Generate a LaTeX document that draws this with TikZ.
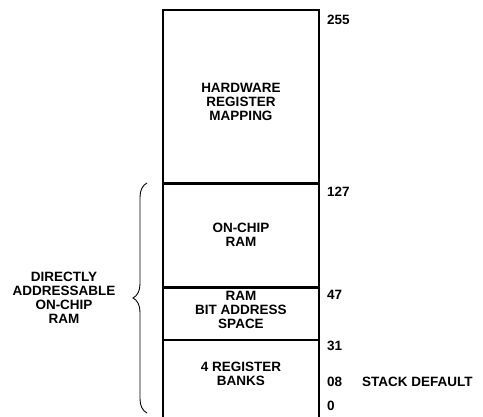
\documentclass[tikz,border=0pt]{standalone}
\usepackage{fontspec}
\setmainfont{Liberation Sans}
\usetikzlibrary{positioning,decorations.pathreplacing}
\tikzset{
  region/.style={draw, line width=1.3pt, minimum width=155pt, inner sep=0pt},
  txt/.style={align=center, inner sep=0pt, font=\fontsize{13.5}{14}\selectfont\bfseries},
  addr/.style={anchor=west, inner sep=0pt, font=\fontsize{13.5}{14}\selectfont\bfseries},
}
\begin{document}
\begin{tikzpicture}[x=1pt,y=-1pt]
    \useasboundingbox (0,0) rectangle (483,417);
    % memory regions, top to bottom
    \node[region, minimum height=172pt, anchor=north west] (hw) at (163,10) {};
    \node[region, minimum height=103pt, below=0pt of hw] (ram) {};
    \node[region, minimum height=51pt, below=0pt of ram] (bit) {};
    \node[region, minimum height=77pt, below=0pt of bit] (rb) {};
    \draw[line width=2.2pt] (hw.north west) rectangle (rb.south east);
    \node[txt] (hwtxt) at (241,102) {HARDWARE\\REGISTER\\MAPPING};
    \node[txt] (ramtxt) at (241,235) {ON-CHIP\\RAM};
    \node[txt] (bittxt) at (241,310) {RAM\\BIT ADDRESS\\SPACE};
    \node[txt] (rbtxt) at (241,374) {4 REGISTER\\BANKS};
    % addresses
    \node[addr] (a255) at (327,20) {255};
    \node[addr] (a127) at (327,192) {127};
    \node[addr] (a47) at (327,295) {47};
    \node[addr] (a31) at (327,346) {31};
    \node[addr] (a08) at (327,382) {08};
    \node[addr] (a0) at (327,406) {0};
    \node[addr] (stack) at (362,382) {STACK DEFAULT};
    % brace
    \coordinate (bb) at (147,413);
    \coordinate (bt) at (147,183);
    \draw[line width=0.9pt, decorate, decoration={brace, amplitude=14pt}] (bb) -- (bt);
    \node[txt] (direct) at (64,298) {DIRECTLY\\ADDRESSABLE\\ON-CHIP\\RAM};
\end{tikzpicture}
\end{document}
